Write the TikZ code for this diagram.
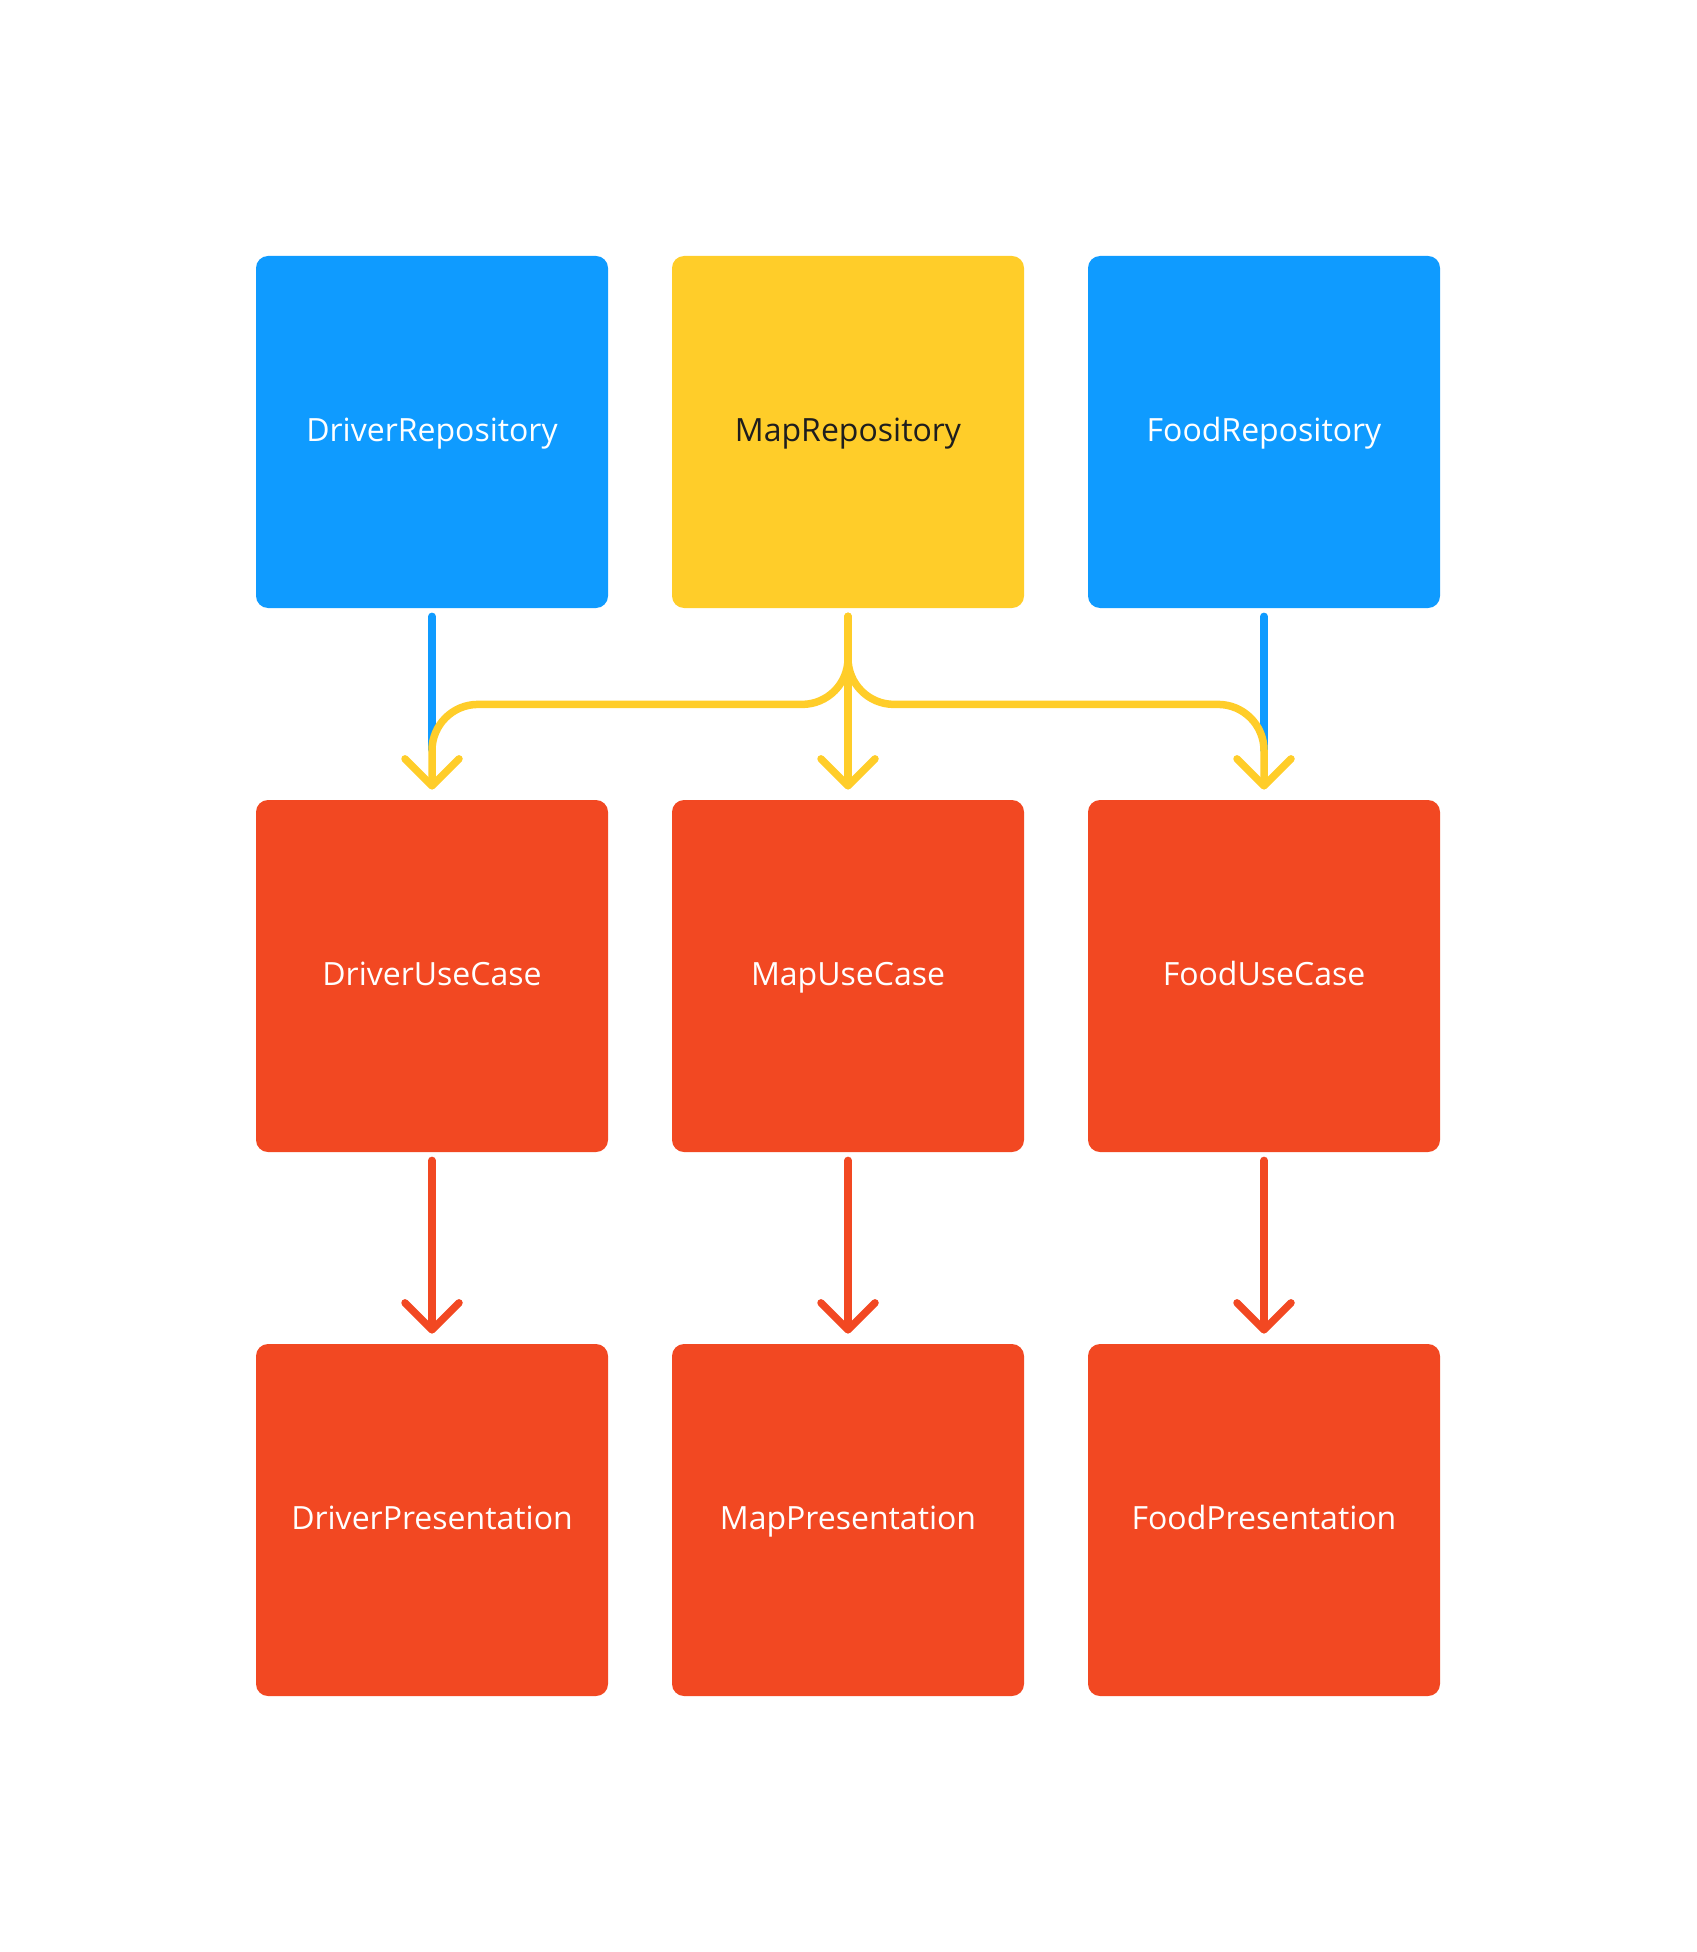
\documentclass[tikz,border=0pt]{standalone}
\usepackage{fontspec}
\setmainfont{Open Sans}
\usetikzlibrary{arrows.meta}

\definecolor{repoblue}{RGB}{15,155,255}
\definecolor{mapyellow}{RGB}{255,205,41}
\definecolor{layerred}{RGB}{242,72,34}
\definecolor{textdark}{RGB}{30,30,30}

\tikzset{
  layerbox/.style={minimum width=176pt, minimum height=176pt, inner sep=0pt,
    rounded corners=6pt, font=\fontsize{16}{20}\selectfont, text=white,
    text height=0.95em, text depth=0pt},
  repobox/.style={layerbox, fill=repoblue},
  mapbox/.style={layerbox, fill=mapyellow, text=textdark},
  redbox/.style={layerbox, fill=layerred},
  link/.style={line width=3.75pt, line cap=round, shorten <=4pt},
  arrowlink/.style={link, shorten >=5pt,
    -{Straight Barb[length=13.5pt, width=27pt, line cap=round, line join=round]}},
}

\begin{document}
\begin{tikzpicture}[x=0.5pt, y=-0.5pt]
% Page size, 1696 x 1952
\useasboundingbox (0,0) rectangle (1696,1952);

% Repositories
\node[repobox] (driverRepo) at (432,432) {DriverRepository};
\node[mapbox]  (mapRepo)    at (848,432) {MapRepository};
\node[repobox] (foodRepo)   at (1264,432) {FoodRepository};

% Use cases
\node[redbox] (driverUseCase) at (432,976) {DriverUseCase};
\node[redbox] (mapUseCase)    at (848,976) {MapUseCase};
\node[redbox] (foodUseCase)   at (1264,976) {FoodUseCase};

% Presentation
\node[redbox] (driverPres) at (432,1520) {DriverPresentation};
\node[redbox] (mapPres)    at (848,1520) {MapPresentation};
\node[redbox] (foodPres)   at (1264,1520) {FoodPresentation};

% Blue lines go under the yellow ones
\draw[link, repoblue, shorten >=25pt] (driverRepo.south) -- (driverUseCase.north);
\draw[link, repoblue, shorten >=25pt] (foodRepo.south) -- (foodUseCase.north);

% MapRepository feeds all three use cases
\draw[arrowlink, mapyellow] (mapRepo.south) -- (mapUseCase.north);
\draw[arrowlink, mapyellow, rounded corners=23pt] (mapRepo.south) -- ++(0,96) -| (driverUseCase.north);
\draw[arrowlink, mapyellow, rounded corners=23pt] (mapRepo.south) -- ++(0,96) -| (foodUseCase.north);

% Use case to presentation
\draw[arrowlink, layerred] (driverUseCase.south) -- (driverPres.north);
\draw[arrowlink, layerred] (mapUseCase.south) -- (mapPres.north);
\draw[arrowlink, layerred] (foodUseCase.south) -- (foodPres.north);
\end{tikzpicture}
\end{document}
